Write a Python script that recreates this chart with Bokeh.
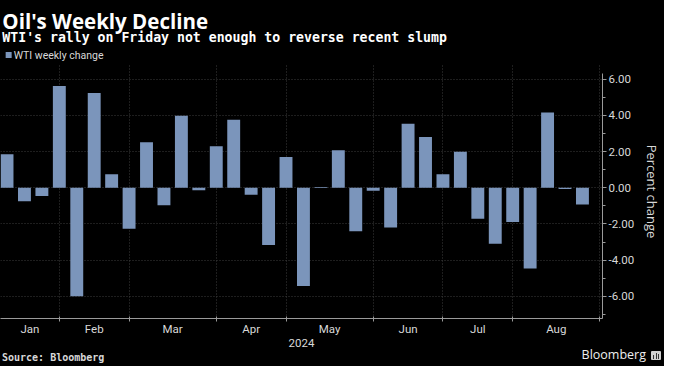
import pandas as pd
from bokeh.plotting import figure
from bokeh.layouts import column
from bokeh.models import (Range1d, FixedTicker, ColumnDataSource, Div,
                          CustomJSTickFormatter, NumeralTickFormatter)
from bokeh.core.properties import value
from bokeh.embed import file_html
from bokeh.resources import INLINE

# ---------------- data ----------------
week_ending = [d.strftime("%Y-%m-%d") for d in
               pd.date_range("2024-01-12", "2024-08-30", freq="W-FRI")]
weekly_change = [1.85, -0.74, -0.45, 5.63, -6.00, 5.25, 0.75, -2.26, 2.52, -0.97,
                 3.98, -0.13, 2.30, 3.76, -0.38, -3.16, 1.70, -5.43, 0.05, 2.08,
                 -2.40, -0.17, -2.20, 3.54, 2.81, 0.75, 1.99, -1.71, -3.10, -1.89,
                 -4.47, 4.16, -0.06, -0.93]
month_names = ["Jan", "Feb", "Mar", "Apr", "May", "Jun", "Jul", "Aug"]
year_label = "2024"
y_major_ticks = [-6, -4, -2, 0, 2, 4, 6]
y_minor_ticks = [-7, -5, -3, -1, 1, 3, 5]

title_text = "Oil's Weekly Decline"
subtitle_text = "WTI's rally on Friday not enough to reverse recent slump"
legend_text = "WTI weekly change"
y_label = "Percent change"
source_text = "Source: Bloomberg"
brand_text = "Bloomberg"

# ---------------- derived ----------------
dates = pd.to_datetime(week_ending)
idx = list(range(len(week_ending)))
boundaries = []
for m in range(2, 10):
    hit = [i for i, d in enumerate(dates) if d.month == m]
    boundaries.append(hit[0] if hit else len(dates))

X0, X1 = -0.374, 34.15
lefts = [X0] + boundaries[:-1]
centers = [(a + b) / 2 for a, b in zip(lefts, boundaries)]

BAR = "#7b95bb"
GRID = "#3c3c3c"
AXIS = "#9a9a9a"
TXT = "#d8d8d8"
W = 664
H_HEAD, H_MAIN, H_FOOT = 61, 288, 17

# ---------------- header ----------------
head = figure(title=None, width=W, height=H_HEAD, output_backend="svg",
              toolbar_location=None,
              x_range=Range1d(0, W), y_range=Range1d(H_HEAD, 0),
              x_axis_type=None, y_axis_type=None,
              min_border_left=0, min_border_right=0,
              min_border_top=0, min_border_bottom=0)
head.background_fill_color = "black"
head.border_fill_color = "black"
head.outline_line_color = None
head.grid.visible = False
head.text(x=[2], y=[20], text=[title_text], text_font=value("Open Sans"),
          text_font_style="bold", text_font_size="20.5px", text_color="white",
          text_baseline="alphabetic")
head.text(x=[2], y=[36.5], text=[subtitle_text], text_font=value("DejaVu Sans Mono"),
          text_font_style="bold", text_font_size="13.2px", text_color="white",
          text_baseline="alphabetic")
head.scatter(x=[9], y=[54.5], marker="square", size=6, fill_color=BAR, line_color=None)
head.text(x=[14.5], y=[54.5], text=[legend_text], text_font=value("Roboto"),
          text_font_size="10.5px", text_color=TXT, text_baseline="middle")

# ---------------- main chart ----------------
src = ColumnDataSource(dict(x=idx, top=weekly_change, date=week_ending))

p = figure(title=None, width=W, height=H_MAIN, output_backend="svg",
           toolbar_location=None,
           x_range=Range1d(X0, X1), y_range=Range1d(-7.23, 6.82),
           y_axis_location="right",
           min_border_left=0, min_border_right=0, min_border_top=3,
           min_border_bottom=0)
p.background_fill_color = "black"
p.border_fill_color = "black"
p.outline_line_color = None

p.vbar(x="x", top="top", bottom=0, width=0.74, source=src,
       fill_color=BAR, line_color=None)

p.xgrid.ticker = FixedTicker(ticks=boundaries)
p.ygrid.ticker = FixedTicker(ticks=y_major_ticks)
for g in (p.xgrid, p.ygrid):
    g.grid_line_color = GRID
    g.grid_line_dash = "1 2"
    g.grid_line_width = 1

xa = p.xaxis[0]
xa.ticker = FixedTicker(ticks=centers, minor_ticks=boundaries)
xa.formatter = CustomJSTickFormatter(args=dict(c=centers, n=month_names), code="""
    for (let i = 0; i < c.length; i++) { if (Math.abs(c[i] - tick) < 1e-6) return n[i]; }
    return "";
""")
xa.axis_label = year_label
xa.axis_line_color = AXIS
xa.major_tick_line_color = None
xa.major_tick_out = 0
xa.major_tick_in = 0
xa.minor_tick_line_color = AXIS
xa.minor_tick_out = 3
xa.minor_tick_in = 2
xa.major_label_text_color = TXT
xa.major_label_text_font = "Roboto"
xa.major_label_text_font_size = "11.5px"
xa.major_label_standoff = 0
xa.axis_label_text_color = TXT
xa.axis_label_text_font = "Roboto"
xa.axis_label_text_font_size = "11.5px"
xa.axis_label_text_font_style = "normal"
xa.axis_label_standoff = 0

ya = p.yaxis[0]
ya.ticker = FixedTicker(ticks=y_major_ticks, minor_ticks=y_minor_ticks)
ya.formatter = NumeralTickFormatter(format="0.00")
ya.bounds = (-7.23, 6.3)
ya.axis_label = y_label
ya.axis_line_color = AXIS
ya.major_tick_line_color = AXIS
ya.major_tick_out = 4
ya.major_tick_in = 0
ya.minor_tick_line_color = AXIS
ya.minor_tick_out = 3
ya.minor_tick_in = 0
ya.major_label_text_color = TXT
ya.major_label_text_font = "Roboto"
ya.major_label_text_font_size = "11.5px"
ya.major_label_standoff = 2
ya.axis_label_text_color = TXT
ya.axis_label_text_font = "Open Sans"
ya.axis_label_text_font_size = "13px"
ya.axis_label_text_font_style = "normal"
ya.axis_label_standoff = 6

# ---------------- footer ----------------
foot_html = (
    f'<div style="position:relative;width:{W}px;height:{H_FOOT}px;background:#000;">'
    f'<span style="position:absolute;left:2px;top:4px;font-family:\'DejaVu Sans Mono\';'
    f'font-weight:bold;font-size:10px;line-height:1;color:{TXT};white-space:nowrap;">'
    f'{source_text}</span>'
    f'<span style="position:absolute;right:{W - 646}px;top:0px;font-family:\'Open Sans\';'
    f'font-size:12.5px;line-height:1;color:#eeeeee;white-space:nowrap;">{brand_text}</span>'
    '<span style="position:absolute;left:651px;top:2px;width:10px;height:9px;'
    'background:#d0d0d0;border-radius:1px;"></span>'
    '<span style="position:absolute;left:653px;top:6px;width:1px;height:4px;background:#333;"></span>'
    '<span style="position:absolute;left:655.5px;top:4px;width:1px;height:6px;background:#333;"></span>'
    '<span style="position:absolute;left:658px;top:5px;width:1px;height:5px;background:#333;"></span>'
    '</div>')
foot = Div(text=foot_html, width=W, height=H_FOOT, margin=0,
           styles={"background-color": "black"})

layout = column(head, p, foot, spacing=0, styles={"background-color": "black"})
open("out.html", "w").write(file_html(layout, INLINE))
